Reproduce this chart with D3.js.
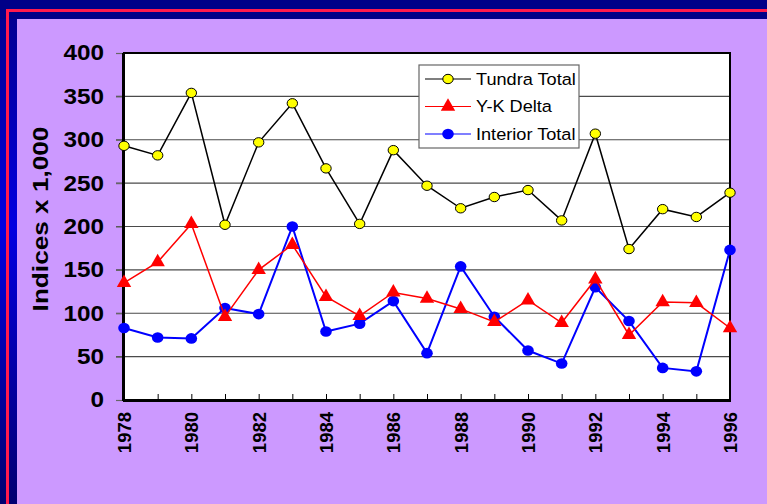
<!DOCTYPE html>
<html>
<head>
<meta charset="utf-8">
<script src="https://cdn.jsdelivr.net/npm/d3@7"></script>
<style>
  html, body { margin: 0; padding: 0; }
  body { width: 767px; height: 504px; overflow: hidden; font-family: "Liberation Sans", Arial, sans-serif; }
</style>
</head>
<body>
<div id="chart"></div>
<script>
const years = d3.range(1978, 1997);
const yTicks = [0, 50, 100, 150, 200, 250, 300, 350, 400];
const xTickLabels = [1978, 1980, 1982, 1984, 1986, 1988, 1990, 1992, 1994, 1996];

const tundraTotal = [293, 282, 354, 202, 297, 342, 267, 203, 288, 247, 221, 234, 242, 207, 307, 174, 220, 211, 239];
const ykDelta = [135, 159, 203, 96, 150, 179, 119, 97, 124, 117, 105, 90, 115, 89, 139, 75, 113, 112, 83];
const interiorTotal = [83, 72, 71, 106, 99, 200, 79, 88, 114, 54, 154, 96, 57, 42, 130, 91, 37, 33, 173];

const seriesNames = ['Tundra Total', 'Y-K Delta', 'Interior Total'];

const W = 767, H = 504;
const margin = { left: 124, top: 53, right: 37, bottom: 104 };
const chartWidth = W - margin.left - margin.right;
const chartHeight = H - margin.top - margin.bottom;

const svg = d3.select('#chart').append('svg')
  .attr('width', W)
  .attr('height', H);

// frame: dark blue gradient, red rule, lilac panel
const defs = svg.append('defs');
const grad = defs.append('linearGradient')
  .attr('id', 'frameGrad')
  .attr('x1', 0).attr('y1', 0).attr('x2', 0).attr('y2', 1);
grad.append('stop').attr('offset', '0%').attr('stop-color', '#00008a');
grad.append('stop').attr('offset', '45%').attr('stop-color', '#0000e0');
grad.append('stop').attr('offset', '100%').attr('stop-color', '#000070');

svg.append('rect').attr('width', W).attr('height', H).attr('fill', 'url(#frameGrad)');
svg.append('rect').attr('x', 0).attr('y', 0).attr('width', W).attr('height', 19).attr('fill', '#000088');
svg.append('rect').attr('x', 6).attr('y', 9).attr('width', W - 6).attr('height', 3).attr('fill', '#ff1a4d');
svg.append('rect').attr('x', 6).attr('y', 9).attr('width', 3).attr('height', H - 9).attr('fill', '#ff1a4d');
svg.append('rect').attr('x', 17).attr('y', 19).attr('width', W - 17).attr('height', H - 19).attr('fill', '#cc99ff');

const g = svg.append('g')
  .attr('transform', `translate(${margin.left},${margin.top})`);

const x = d3.scaleLinear().domain([1978, 1996]).range([0, chartWidth]);
const y = d3.scaleLinear().domain([0, 400]).range([chartHeight, 0]);

g.append('rect')
  .attr('width', chartWidth)
  .attr('height', chartHeight)
  .attr('fill', '#fff');

// gridlines
g.append('g').classed('gridlines', true)
  .selectAll('line')
  .data(yTicks.filter(d => d > 0 && d < 400))
  .join('line')
  .attr('x1', -8).attr('x2', chartWidth)
  .attr('y1', d => y(d)).attr('y2', d => y(d))
  .attr('stroke', '#4a4a4a')
  .attr('stroke-width', 1.2);

// y axis (labels a little wide, like the original slide font)
const axisY = d3.axisLeft(y).tickValues(yTicks).tickSize(8).tickPadding(12);
const gy = g.append('g').classed('axis y', true).call(axisY);
gy.select('.domain').remove();
gy.selectAll('.tick line').attr('stroke', '#666').attr('stroke-width', 1.2);
gy.selectAll('.tick text')
  .attr('x', 0)
  .attr('transform', 'translate(-20,0) scale(1.13,1)')
  .attr('fill', '#000')
  .style('font-family', '"Liberation Sans", Arial, sans-serif')
  .style('font-weight', 'bold')
  .style('font-size', '21.5px');

// x axis: inner ticks at each year
const axisX = d3.axisBottom(x).tickValues(years).tickSizeInner(-6).tickSizeOuter(0).tickFormat('');
const gx = g.append('g')
  .attr('transform', `translate(0,${chartHeight})`)
  .classed('axis x', true)
  .call(axisX);
gx.select('.domain').remove();
gx.selectAll('.tick line').attr('stroke', '#000').attr('stroke-width', 1);

g.append('g').classed('x-labels', true)
  .selectAll('text')
  .data(xTickLabels)
  .join('text')
  .attr('transform', d => `translate(${x(d) + 7},${chartHeight + 12}) rotate(-90)`)
  .attr('text-anchor', 'end')
  .style('font-weight', 'bold')
  .style('font-size', '18.5px')
  .text(d => d);

// plot frame
g.append('rect')
  .attr('width', chartWidth)
  .attr('height', chartHeight)
  .attr('fill', 'none')
  .attr('stroke', '#000')
  .attr('stroke-width', 2);
g.append('line')
  .attr('x1', -1).attr('x2', -1).attr('y1', 0).attr('y2', chartHeight + 1)
  .attr('stroke', '#000').attr('stroke-width', 2);
g.append('line')
  .attr('x1', -1).attr('x2', chartWidth + 1).attr('y1', chartHeight + 1).attr('y2', chartHeight + 1)
  .attr('stroke', '#000').attr('stroke-width', 2);

// y title
svg.append('text')
  .attr('transform', 'translate(48,219) rotate(-90) scale(1.19,1)')
  .attr('text-anchor', 'middle')
  .style('font-weight', 'bold')
  .style('font-size', '22px')
  .text('Indices x 1,000');

const lineFn = d3.line()
  .x((d, i) => x(years[i]))
  .y(d => y(d));

const triangle = d3.symbol().type(d3.symbolTriangle).size(90);

function drawSeries(data, color, width, marker) {
  const s = g.append('g');
  s.append('path')
    .datum(data)
    .attr('fill', 'none')
    .attr('stroke', color)
    .attr('stroke-width', width)
    .attr('d', lineFn);
  const pts = s.selectAll('.pt').data(data).join('g')
    .attr('transform', (d, i) => `translate(${x(years[i])},${y(d)})`);
  marker(pts);
}

const yellowDot = sel => sel.append('ellipse')
  .attr('rx', 5.2).attr('ry', 4.7)
  .attr('fill', '#ffff00').attr('stroke', '#000').attr('stroke-width', 1);
const redTri = sel => sel.append('path')
  .attr('d', triangle).attr('fill', '#ff0000');
const blueDot = sel => sel.append('ellipse')
  .attr('rx', 5.8).attr('ry', 5.3)
  .attr('fill', '#0000ff');

drawSeries(interiorTotal, '#0000ff', 2, blueDot);
drawSeries(ykDelta, '#ff0000', 1.5, redTri);
drawSeries(tundraTotal, '#000', 1.5, yellowDot);

// legend
const legend = svg.append('g').attr('transform', 'translate(419,65)');
legend.append('rect')
  .attr('width', 160).attr('height', 83)
  .attr('fill', '#fff')
  .attr('stroke', '#666')
  .attr('stroke-width', 1.2);
const legendItems = [
  { name: seriesNames[0], color: '#000', marker: yellowDot },
  { name: seriesNames[1], color: '#ff0000', marker: redTri },
  { name: seriesNames[2], color: '#0000ff', marker: blueDot }
];
legendItems.forEach((item, i) => {
  const row = legend.append('g').attr('transform', `translate(0,${14 + i * 27.5})`);
  row.append('line')
    .attr('x1', 6).attr('x2', 52)
    .attr('stroke', item.color).attr('stroke-width', 1.2);
  item.marker(row.append('g').attr('transform', 'translate(29,0)'));
  row.append('text')
    .attr('transform', 'translate(57,0) scale(1.1,1)')
    .attr('dy', '0.35em')
    .style('font-size', '16.5px')
    .text(item.name);
});
</script>
</body>
</html>
